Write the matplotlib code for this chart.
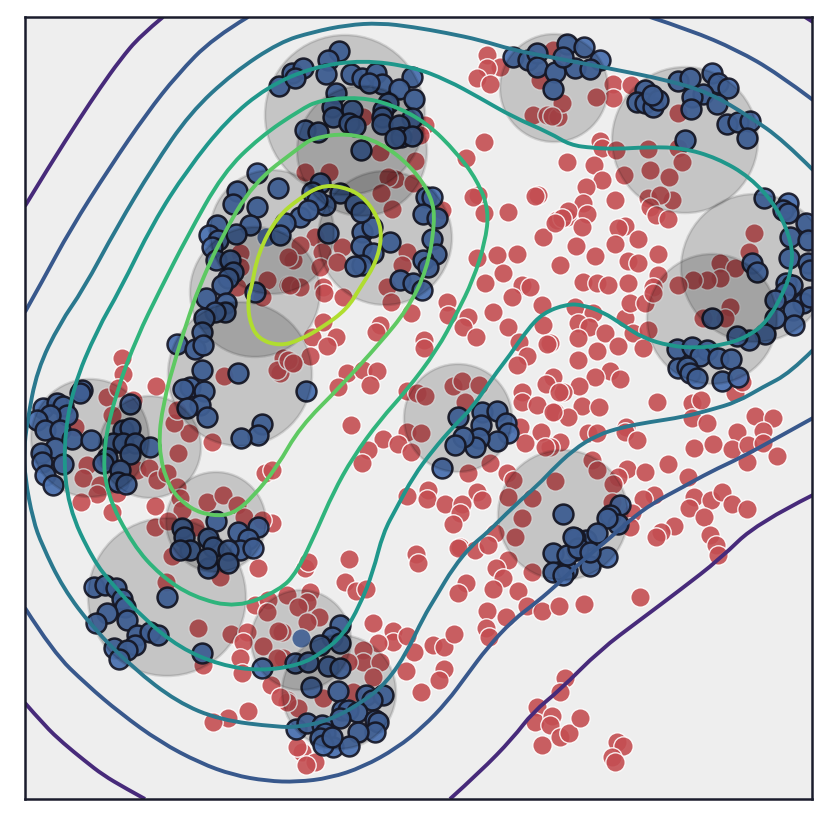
import matplotlib
matplotlib.use('Agg')
from matplotlib import pyplot as plt
from matplotlib.patches import Circle, PathPatch
from matplotlib.path import Path

# All values, in picture units
red_points = [
    (487,55),(500,67),(487,68),(477,78),(490,84),(484,142),(466,158),(478,195),(473,197),(538,195),(535,196),
    (484,213),(508,212),(543,237),(477,258),(497,255),(517,254),(503,273),(485,283),(522,285),(560,265),
    (557,220),(567,217),(533,115),(547,115),(558,117),(540,80),(553,50),(562,103),(552,116),
    (380,152),(415,161),(395,179),(388,177),(413,183),(381,193),(392,209),(305,172),(329,172),(425,125),(420,135),
    (363,117),(442,210),(407,252),(402,265),(387,287),(293,260),(315,237),(300,245),(342,247),(322,252),(320,267),
    (337,262),(288,285),(300,287),(323,287),
    (613,84),(631,85),(613,98),(596,97),(600,141),(602,148),(616,150),(567,162),(594,165),(678,113),(648,149),
    (678,148),(682,162),(650,170),(669,177),(624,175),(602,180),(586,187),(648,198),(672,200),(660,195),(650,207),
    (656,215),(668,219),(615,200),(583,203),(568,211),(587,214),(562,218),(555,223),(582,227),(625,226),(618,228),
    (638,239),(615,244),(576,246),(595,256),(628,261),(638,263),(658,254),(658,275),(754,233),(749,252),(720,263),
    (735,268),(720,278),(707,280),(693,280),(678,285),(583,282),(597,283),(608,285),(628,283),(653,287),
    (575,307),(593,313),(625,318),(578,323),(589,327),(605,333),(633,333),(648,330),(578,338),(618,346),(597,351),
    (643,348),(550,343),(578,360),(610,371),(620,379),(595,377),(579,386),(553,377),(563,392),(582,406),(599,407),
    (555,412),(568,417),(657,402),(692,403),(701,400),(692,418),(707,423),(755,416),(773,418),(626,427),(625,432),
    (588,433),(597,433),(637,440),(737,432),(763,431),(694,448),(713,444),(732,449),(748,445),(763,443),(747,462),
    (777,456),(560,442),(550,447),(592,460),(597,470),(627,469),(618,477),(645,472),(668,464),(688,477),(613,484),
    (555,481),(654,495),(643,499),(694,497),(711,500),(722,492),(732,504),(747,509),(689,508),(704,517),(674,526),
    (661,532),(656,537),(632,513),(630,527),(710,535),(716,545),(718,555),(735,393),(742,382),(612,502),
    (630,303),(645,303),(653,293),(730,307),(725,318),(703,318),
    (447,302),(448,315),(468,317),(463,327),(476,337),(493,312),(512,297),(530,287),(542,305),(508,327),(543,325),
    (519,342),(547,344),(527,356),(517,365),(546,384),(559,392),(522,392),(522,402),(537,405),(553,412),(520,427),
    (541,432),(525,443),(545,447),(324,293),(343,297),(380,325),(376,332),(391,302),(411,313),(424,340),(424,348),
    (323,322),(312,337),(336,337),(327,346),(310,356),(293,363),(283,358),(280,373),(347,373),(363,370),(377,371),
    (370,385),(338,387),(407,391),(417,393),(425,396),(453,386),(462,381),(479,385),(465,402),(351,425),(407,432),
    (421,433),(383,439),(398,444),(411,452),(368,450),(362,463),(490,463),(468,473),(507,473),(513,480),(428,490),
    (407,496),(427,499),(477,492),(482,500),(445,504),(462,504),(460,513),(453,524),(508,497),(532,498),(522,518),
    (495,533),(515,537),(460,547),(475,550),(488,545),
    (349,559),(305,568),(308,562),(416,554),(418,563),(345,582),(356,591),(366,589),(310,592),(287,595),(307,602),
    (298,607),(319,617),(307,622),(373,623),(393,631),(393,642),(407,636),(378,643),(414,652),(433,645),(444,647),
    (454,634),(363,650),(363,662),(380,662),(406,671),(444,669),(439,680),(421,692),(373,677),(348,662),(353,692),
    (323,698),(287,700),(298,708),(282,632),(283,658),(302,752),(297,747),(315,762),(306,765),(458,548),(508,560),
    (496,568),(503,578),(466,583),(458,593),(493,589),(518,591),(532,572),(527,606),(542,611),(487,611),(506,617),
    (486,628),(489,637),(537,707),(535,722),(552,716),(550,725),(542,745),(560,737),(569,733),(580,718),(565,678),
    (560,692),(584,604),(559,606),(640,597),(617,742),(623,746),(612,757),(615,762),
    (172,556),(166,582),(198,628),(220,577),(258,568),(255,605),(268,600),(267,612),(231,634),(247,632),(243,642),
    (240,658),(242,673),(278,631),(263,646),(277,658),(203,665),(271,685),(287,702),(280,697),(248,711),(228,718),
    (213,722),
    (122,358),(123,374),(107,397),(118,388),(156,386),(112,415),(133,400),(75,427),(87,465),(83,478),(100,485),
    (97,494),(81,502),(112,512),(117,493),(137,470),(149,468),(157,480),(167,473),(178,453),(189,433),(174,423),
    (177,410),(212,442),(177,487),(180,498),(182,510),(155,506),(207,502),(223,495),(237,505),(244,517),(265,473),
    (272,470),(272,523),(155,527),(168,521),(195,527),(262,520),(224,376),(277,370),(288,360),(293,363),
    (240,253),(267,280),(290,285),(288,257),(240,267),(262,297),(237,287),
]

blue_points = [
    (279,86),(292,73),(303,68),(295,78),(339,51),(328,60),(326,74),(351,74),(362,78),(376,73),(382,84),(412,77),
    (369,83),(399,89),(414,99),(336,93),(332,107),(352,110),(333,117),(349,123),(355,126),(388,103),(383,110),
    (382,117),(382,124),(412,118),(399,125),(401,137),(412,136),(395,138),(305,130),(318,132),(361,150),
    (426,197),(432,197),(423,214),(437,218),(432,239),(436,254),(423,260),(428,267),(400,280),(413,283),(422,290),
    (390,242),(362,232),(372,227),(361,246),(373,253),(362,265),(355,266),(328,233),(320,183),(312,192),(340,193),
    (325,205),(317,200),(355,204),(361,212),(300,217),(308,210),(285,223),(280,235),
    (257,173),(278,188),(237,191),(233,204),(257,207),(250,225),(217,225),(209,235),(218,240),(236,234),(212,247),
    (216,260),(230,260),(233,272),(228,278),(222,285),(255,292),
    (513,57),(528,60),(537,53),(537,67),(555,72),(553,89),(567,44),(584,47),(600,60),(575,68),(590,69),(563,57),
    (645,90),(637,102),(645,103),(653,107),(658,100),(652,95),(678,81),(690,78),(712,73),(718,83),(728,88),(703,94),
    (692,97),(691,109),(717,104),(727,124),(738,122),(750,121),(747,138),(685,140),
    (764,198),(788,203),(783,210),(788,213),(806,223),(790,237),(808,240),(789,258),(808,263),(810,270),(752,263),
    (757,272),(786,283),(792,285),(785,292),(775,300),(803,303),(810,297),(793,310),(775,318),(794,325),(765,334),
    (749,340),(737,336),(712,318),(677,349),(692,347),(707,350),(700,356),(718,358),(731,359),(678,368),(687,367),
    (690,373),(697,378),(722,381),(738,377),
    (458,417),(482,412),(497,411),(481,425),(506,423),(508,433),(497,441),(479,438),(475,447),(463,437),(455,445),
    (442,468),(306,391),
    (206,298),(226,303),(225,312),(215,312),(204,318),(202,332),(177,344),(195,349),(203,345),(202,370),(190,387),
    (183,389),(204,391),(200,405),(187,408),(207,417),(238,373),(262,424),(258,435),(241,438),
    (82,390),(80,393),(130,404),(43,408),(57,403),(63,406),(67,415),(50,415),(37,420),(45,430),(60,430),(72,439),
    (91,440),(55,448),(41,453),(42,462),(63,464),(45,475),(53,485),(123,430),(130,428),(113,443),(123,443),(135,443),
    (130,454),(107,458),(103,463),(120,470),(118,482),(126,484),(150,447),
    (216,521),(182,528),(184,537),(190,550),(180,550),(208,538),(213,547),(258,527),(238,532),(248,539),(240,550),
    (228,550),(253,548),(208,568),(228,563),(207,558),
    (94,587),(105,585),(116,588),(122,599),(125,607),(107,613),(96,623),(127,620),(137,635),(150,632),(158,635),
    (135,645),(114,648),(127,650),(119,659),(167,597),(202,653),(262,668),
    (340,625),(332,637),(340,643),(320,645),(295,663),(308,662),(328,666),(340,668),(311,687),(338,691),(366,695),
    (383,695),(372,700),(342,710),(348,710),(357,712),(340,718),(375,720),(378,722),(375,732),(358,732),(296,729),
    (307,723),(322,725),(325,733),(320,738),(333,747),(349,746),(323,745),(332,737),
    (563,514),(620,505),(610,515),(618,524),(607,518),(553,553),(553,572),(567,570),(590,566),(607,557),(586,540),
    (575,538),(597,533),(577,550),(567,555),(563,575),(578,548),(590,552),(573,537),
]

faint_blue_points = [(301, 638), (266, 237)]

circle_x = [345, 362, 272, 385, 255, 240, 90, 150, 216, 167, 301, 339, 458, 554, 685, 755, 712, 563]
circle_y = [115, 151, 232, 238, 292, 374, 438, 447, 522, 597, 640, 692, 418, 88, 140, 268, 319, 515]
circle_r = [80, 65, 62, 67, 65, 72, 59, 51, 50, 79, 50, 57, 54, 54, 73, 74, 65, 65]

purple_a = [(25,206),(50,165),(80,118),(100,88),(120,60),(140,36),(163,17)]
purple_b = [(25,703),(45,726),(63,743),(85,761),(103,775),(125,788),(145,799)]
purple_c = [(450,799),(480,772),(513,738),(533,712),(560,690),(600,650),(640,620),(680,590),(720,559),(757,523),(813,495)]
purple_d = [(805,17),(813,22)]

blue_a = [(248,17),(213,38),(177,75),(147,113),(110,167),(70,230),(43,280),(25,312)]
blue_b = [(650,17),(690,30),(737,50),(777,73),(813,100)]
blue_c = [(25,608),(53,652),(87,685),(120,713),(160,742),(200,763),(233,775),(267,781),(297,782),(330,778),(363,767),
          (397,748),(423,727),(447,702),(467,675),(487,648),(513,620),(537,602),(560,582),(583,560),(610,538),(630,520),
          (653,503),(683,487),(710,472),(740,458),(777,438),(813,418)]

teal_blue = [(813,170),(783,140),(750,117),(710,93),(667,80),(607,68),(550,57),(513,50),(480,40),(447,33),(413,27),
             (380,23),(347,25),(313,32),(280,42),(233,73),(190,113),(153,167),(117,227),(83,290),(60,323),(37,370),
             (27,423),(24,450),(25,478),(33,520),(42,545),(63,588),(93,628),(133,668),(177,702),(220,720),(277,727),
             (300,727),(330,720),(363,702),(387,682),(407,652),(423,618),(437,595),(453,568),(472,545),(487,533),
             (513,507),(540,483),(550,472),(573,450),(597,435),(623,427),(650,422),(683,417),(710,410),(737,402),
             (763,387),(790,373),(813,350)]

teal = [(120,290),(153,223),(187,170),(227,120),(267,87),(313,67),(363,60),(413,67),(447,80),(480,98),(513,117),
        (550,133),(570,145),(593,148),(617,149),(650,147),(683,148),(717,158),(750,177),(777,207),(792,243),(792,267),
        (785,290),(767,322),(747,337),(723,345),(697,348),(670,346),(643,338),(623,325),(603,312),(583,305),(567,304),
        (543,313),(527,330),(510,355),(493,377),(473,407),(453,427),(433,450),(413,477),(397,507),(383,533),(373,572),
        (360,605),(343,635),(323,652),(300,665),(260,671),(220,665),(180,648),(143,618),(113,585),(93,560),(68,507),
        (63,447),(73,387),(97,330),(120,290)]

green = [(160,290),(187,237),(223,173),(260,137),(300,110),(320,100),(360,97),(393,105),(427,123),(457,153),(477,180),
         (489,210),(485,243),(473,280),(457,313),(437,350),(407,390),(380,420),(353,457),(333,493),(317,530),(297,572),
         (280,590),(237,608),(193,597),(160,575),(133,545),(106,493),(103,447),(117,390),(137,337),(160,290)]

light_green = [(198,290),(220,240),(253,183),(300,147),(313,138),(347,133),(380,142),(412,167),(432,197),(435,223),
               (427,270),(407,310),(380,343),(340,387),(300,427),(277,467),(253,497),(233,514),(213,516),(190,509),
               (168,487),(158,447),(163,403),(177,353),(190,313),(198,290)]

lime = [(251,290),(258,253),(277,217),(300,198),(320,186),(340,186),(362,195),(378,217),(382,237),(376,263),(360,288),
        (347,309),(323,327),(300,340),(280,346),(258,339),(249,320),(248,297),(251,290)]

contours = [
    (purple_a, 0.12), (purple_b, 0.12), (purple_c, 0.12), (purple_d, 0.12),
    (blue_a, 0.27), (blue_b, 0.27), (blue_c, 0.27),
    (teal_blue, 0.40), (teal, 0.53), (green, 0.65), (light_green, 0.75), (lime, 0.88),
]


def mid(a, b):
    return ((a[0] + b[0]) / 2, (a[1] + b[1]) / 2)


def smooth_path(pts):
    # read points are the control points of quadratic curves, so the line has no corners
    if pts[0] == pts[-1]:
        loop = pts[:-1]
        verts = [mid(loop[-1], loop[0])]
        codes = [Path.MOVETO]
        for i, p in enumerate(loop):
            verts += [p, mid(p, loop[(i + 1) % len(loop)])]
            codes += [Path.CURVE3, Path.CURVE3]
        return Path(verts, codes)
    verts = [pts[0]]
    codes = [Path.MOVETO]
    for i in range(1, len(pts) - 1):
        end = pts[i + 1] if i == len(pts) - 2 else mid(pts[i], pts[i + 1])
        verts += [pts[i], end]
        codes += [Path.CURVE3, Path.CURVE3]
    if len(pts) == 2:
        verts.append(pts[1])
        codes.append(Path.LINETO)
    return Path(verts, codes)


fig = plt.figure(figsize=(8.3, 8.25), dpi=100)
ax = fig.add_axes([25 / 830, 26 / 825, 787 / 830, 782 / 825])
ax.set_facecolor('#eeeeee')

ax.scatter(*zip(*red_points), s=195, c='#c44e52', edgecolors='white', linewidths=1, alpha=0.9, zorder=2)
ax.scatter(*zip(*faint_blue_points), s=195, c='#4c72b0', edgecolors='white', linewidths=1, alpha=0.9, zorder=2.5)
ax.scatter(*zip(*blue_points), s=205, c='#4c72b0', edgecolors='#1a1c2c', linewidths=1.8, alpha=0.95, zorder=3)

for cx, cy, r in zip(circle_x, circle_y, circle_r):
    ax.add_patch(Circle((cx, cy), r, facecolor=(0, 0, 0, 0.17), edgecolor=(0, 0, 0, 0.12), linewidth=1.8, zorder=4))

for path, level in contours:
    ax.add_patch(PathPatch(smooth_path(path), facecolor='none', edgecolor=plt.cm.viridis(level), linewidth=2.8, zorder=5))

ax.set_xlim(25, 812)
ax.set_ylim(799, 17)
ax.set_xticks([])
ax.set_yticks([])
for spine in ax.spines.values():
    spine.set_linewidth(1.8)
    spine.set_color('#1a1c2c')
    spine.set_zorder(6)

fig.savefig('out.png', dpi=100)
